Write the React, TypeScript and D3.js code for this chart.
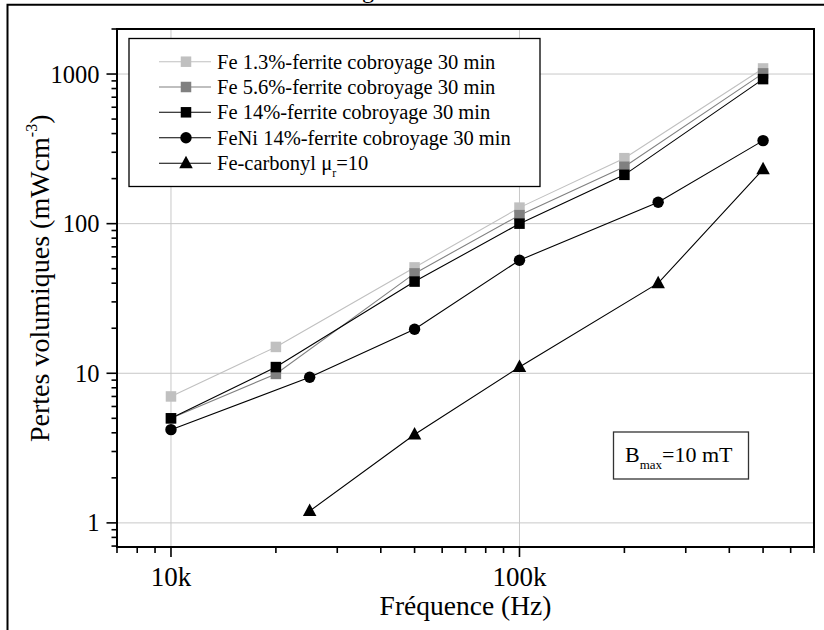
import React from 'react';
import * as d3 from 'd3';

const freqFe = [10000, 20000, 50000, 100000, 200000, 500000];
const fe13 = [7.0, 15.0, 51, 128, 274, 1090];
const fe56 = [5.0, 9.9, 46.5, 114, 240, 1010];
const fe14 = [5.0, 11.0, 41, 100, 212, 925];
const freqFeNi = [10000, 25000, 50000, 100000, 250000, 500000];
const feNi14 = [4.2, 9.4, 19.7, 57, 139, 359];
const freqCarb = [25000, 50000, 100000, 250000, 500000];
const carbonyl = [1.2, 3.9, 11, 40, 231];

const seriesNames = [
  'Fe 1.3%-ferrite cobroyage 30 min',
  'Fe 5.6%-ferrite cobroyage 30 min',
  'Fe 14%-ferrite cobroyage 30 min',
  'FeNi 14%-ferrite cobroyage 30 min',
  'Fe-carbonyl μ',
];
const xMajorTicks = [10000, 100000];
const xTickLabels = ['10k', '100k'];
const yMajorTicks = [1, 10, 100, 1000];
const yTickLabels = ['1', '10', '100', '1000'];
const xTitle = 'Fréquence (Hz)';
const yTitle = 'Pertes volumiques (mWcm';
const cutTitle = 'g';

const FONT = "'Liberation Serif', 'Times New Roman', Times, 'DejaVu Serif', serif";
const TS: React.CSSProperties = { fontFamily: FONT };

type Series = { xs: number[]; ys: number[]; color: string; shape: 'square' | 'circle' | 'triangle' };

const series: Series[] = [
  { xs: freqFe, ys: fe13, color: '#c0c0c0', shape: 'square' },
  { xs: freqFe, ys: fe56, color: '#808080', shape: 'square' },
  { xs: freqFe, ys: fe14, color: '#000000', shape: 'square' },
  { xs: freqFeNi, ys: feNi14, color: '#000000', shape: 'circle' },
  { xs: freqCarb, ys: carbonyl, color: '#000000', shape: 'triangle' },
];

function Marker({ x, y, shape, color }: { x: number; y: number; shape: string; color: string }) {
  if (shape === 'square') {
    const s = 10.5;
    return <rect x={x - s / 2} y={y - s / 2} width={s} height={s} fill={color} />;
  }
  if (shape === 'circle') {
    return <circle cx={x} cy={y} r={5.7} fill={color} />;
  }
  const w = 13.5;
  const h = 12.5;
  return (
    <path
      d={`M${x},${y - h * 0.6} L${x + w / 2},${y + h * 0.4} L${x - w / 2},${y + h * 0.4} Z`}
      fill={color}
    />
  );
}

export default function App() {
  const left = 117;
  const right = 814;
  const top = 29;
  const bottom = 547;

  const x = d3.scaleLog().domain([7000, 700000]).range([left, right]);
  const y = d3.scaleLog().domain([0.69, 2000]).range([bottom, top]);

  const xTicks = x.ticks();
  const yTicks = y.ticks();

  const isMajor = (v: number) => Math.abs(Math.log10(v) - Math.round(Math.log10(v))) < 1e-9;

  const line = d3
    .line<[number, number]>()
    .x((d) => x(d[0]))
    .y((d) => y(d[1]));

  const legendRows = [61.7, 87, 112.3, 137.8, 163.3];

  return (
    <svg
      width={824}
      height={630}
      style={{ position: 'absolute', left: 0, top: 0, background: '#fff', fontFamily: FONT }}
    >
      <rect x={0} y={0} width={824} height={630} fill="#fff" />
      {/* cut-off title */}
      <text style={TS} x={368} y={-2} textAnchor="middle" fontSize={24}>
        {cutTitle}
      </text>
      {/* outer frame */}
      <path d="M7.5,640 V4.8 H840" fill="none" stroke="#000" strokeWidth={2} />

      {/* grid */}
      {xMajorTicks.map((t) => (
        <line key={'gx' + t} x1={x(t)} x2={x(t)} y1={top} y2={bottom} stroke="#c8c8c8" strokeWidth={1} />
      ))}
      {yMajorTicks.map((t) => (
        <line key={'gy' + t} x1={left} x2={right} y1={y(t)} y2={y(t)} stroke="#c8c8c8" strokeWidth={1} />
      ))}

      {/* series lines */}
      {series.map((s, i) => (
        <path
          key={'l' + i}
          d={line(s.xs.map((v, j) => [v, s.ys[j]] as [number, number])) || ''}
          fill="none"
          stroke={s.color}
          strokeWidth={1.1}
        />
      ))}
      {series.map((s, i) => (
        <g key={'m' + i}>
          {s.xs.map((v, j) => (
            <Marker key={j} x={x(v)} y={y(s.ys[j])} shape={s.shape} color={s.color} />
          ))}
        </g>
      ))}

      {/* axes frame */}
      <rect x={left} y={top} width={right - left} height={bottom - top} fill="none" stroke="#000" strokeWidth={2} />

      {/* x ticks */}
      {xTicks.map((t, i) => (
        <line
          key={'xt' + i}
          x1={x(t)}
          x2={x(t)}
          y1={bottom}
          y2={bottom + (isMajor(t) ? 10 : 6)}
          stroke="#000"
          strokeWidth={1.6}
        />
      ))}
      {xMajorTicks.map((t, i) => (
        <text key={'xl' + i} style={TS} x={x(t)} y={586} textAnchor="middle" fontSize={27}>
          {xTickLabels[i]}
        </text>
      ))}
      <text style={TS} x={(left + right) / 2} y={615} textAnchor="middle" fontSize={27.5}>
        {xTitle}
      </text>

      {/* y ticks */}
      {yTicks.map((t, i) => (
        <line
          key={'yt' + i}
          x1={left - (isMajor(t) ? 10.5 : 5.5)}
          x2={left}
          y1={y(t)}
          y2={y(t)}
          stroke="#000"
          strokeWidth={1.6}
        />
      ))}
      {yMajorTicks.map((t, i) => (
        <text key={'yl' + i} style={TS} x={99.5} y={y(t) + 8.5} textAnchor="end" fontSize={24.5}>
          {yTickLabels[i]}
        </text>
      ))}
      <text style={TS} transform="translate(49,442) rotate(-90)" fontSize={28}>
        {yTitle}
        <tspan fontSize={16} dy={-12}>-3</tspan>
        <tspan dy={12}>)</tspan>
      </text>

      {/* legend */}
      <rect x={129} y={38.5} width={411} height={148} fill="#fff" stroke="#000" strokeWidth={1.3} />
      {series.map((s, i) => (
        <g key={'lg' + i}>
          <line x1={159} x2={211} y1={legendRows[i]} y2={legendRows[i]} stroke={s.color} strokeWidth={1.1} />
          <Marker x={186} y={legendRows[i]} shape={s.shape} color={s.color} />
          <text style={TS} x={217} y={legendRows[i] + 7} fontSize={20.5}>
            {seriesNames[i]}
            {i === 4 ? (
              <>
                <tspan fontSize={12} dy={7}>r</tspan>
                <tspan dy={-7}>=10</tspan>
              </>
            ) : null}
          </text>
        </g>
      ))}

      {/* annotation box */}
      <rect x={613.5} y={432} width={135} height={47} fill="#fff" stroke="#333" strokeWidth={1.3} />
      <text style={TS} x={625} y={462} fontSize={22}>
        B<tspan fontSize={13} dy={7}>max</tspan>
        <tspan dy={-7}>=10 mT</tspan>
      </text>
    </svg>
  );
}
